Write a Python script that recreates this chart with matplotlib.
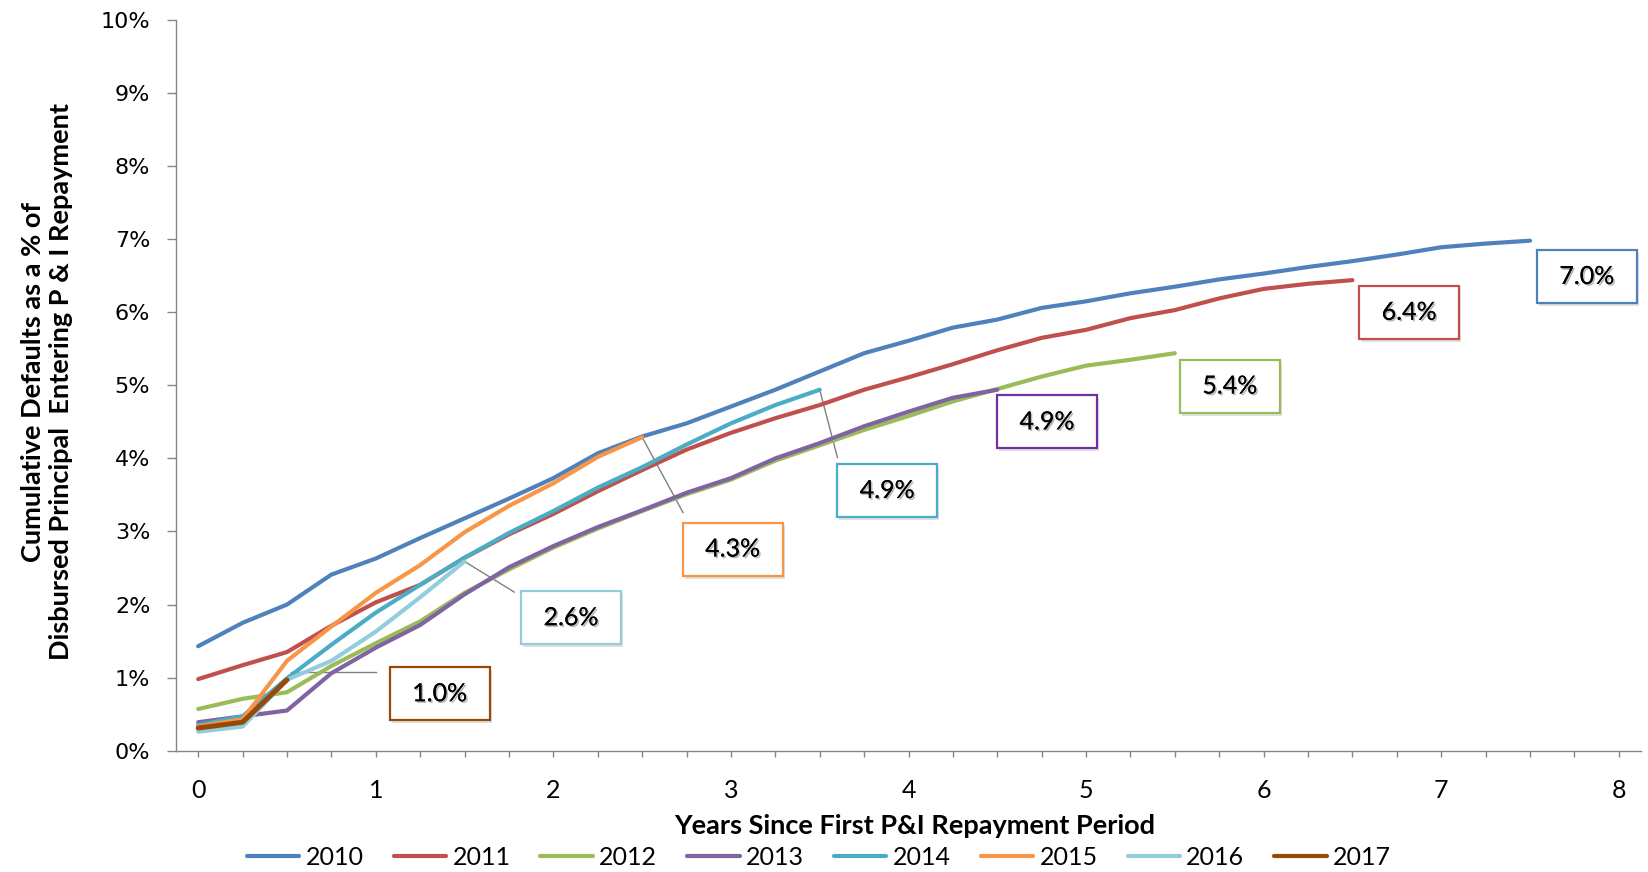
import matplotlib
matplotlib.use("Agg")
import matplotlib.pyplot as plt
import matplotlib.transforms as mtransforms
import matplotlib.patheffects as pe
from matplotlib.patches import Rectangle
from matplotlib.ticker import MultipleLocator, FuncFormatter

# ---------------- data ----------------
quarters = [0, 0.25, 0.5, 0.75, 1.0, 1.25, 1.5, 1.75, 2.0, 2.25, 2.5, 2.75,
            3.0, 3.25, 3.5, 3.75, 4.0, 4.25, 4.5, 4.75, 5.0, 5.25, 5.5, 5.75,
            6.0, 6.25, 6.5, 6.75, 7.0, 7.25, 7.5]

s2010 = [1.43, 1.75, 2.00, 2.41, 2.63, 2.91, 3.18, 3.45, 3.73, 4.07, 4.30, 4.48,
         4.71, 4.94, 5.19, 5.44, 5.61, 5.79, 5.90, 6.06, 6.15, 6.26, 6.35, 6.45,
         6.53, 6.62, 6.70, 6.79, 6.89, 6.94, 6.98]
s2011 = [0.98, 1.17, 1.35, 1.71, 2.03, 2.27, 2.64, 2.96, 3.24, 3.55, 3.84, 4.12,
         4.35, 4.55, 4.73, 4.94, 5.11, 5.29, 5.48, 5.65, 5.76, 5.92, 6.03, 6.19,
         6.32, 6.39, 6.44]
s2012 = [0.57, 0.71, 0.80, 1.16, 1.47, 1.77, 2.16, 2.48, 2.78, 3.04, 3.28, 3.51,
         3.71, 3.97, 4.18, 4.39, 4.58, 4.78, 4.95, 5.12, 5.27, 5.35, 5.44]
s2013 = [0.39, 0.47, 0.55, 1.06, 1.41, 1.72, 2.14, 2.51, 2.80, 3.06, 3.29, 3.53,
         3.73, 4.00, 4.21, 4.44, 4.64, 4.83, 4.94]
s2014 = [0.35, 0.47, 0.99, 1.45, 1.89, 2.27, 2.64, 2.98, 3.28, 3.60, 3.88, 4.19,
         4.48, 4.73, 4.94]
s2015 = [0.33, 0.43, 1.23, 1.70, 2.16, 2.54, 2.99, 3.35, 3.66, 4.02, 4.29]
s2016 = [0.26, 0.33, 0.97, 1.23, 1.63, 2.10, 2.59]
s2017 = [0.31, 0.39, 0.97]

cohorts = ["2010", "2011", "2012", "2013", "2014", "2015", "2016", "2017"]
series = [s2010, s2011, s2012, s2013, s2014, s2015, s2016, s2017]
colors = ["#4F81BD", "#C0504D", "#9BBB59", "#8064A2", "#4BACC6", "#F79646",
          "#93CDDD", "#984807"]
box_edges = ["#4F81BD", "#C0504D", "#9BBB59", "#7030A0", "#4BACC6", "#F79646",
             "#93CDDD", "#984807"]
widths = [3.0, 3.0, 3.0, 3.0, 3.0, 3.0, 3.0, 3.6]

# label centres (years, %) and optional leader lines (start, end)
label_pos = [(7.82, 6.49), (6.82, 6.00), (5.81, 4.99), (4.78, 4.50),
             (3.88, 3.56), (3.01, 2.76), (2.10, 1.82), (1.36, 0.78)]
leader_start = [None, None, None, None, None, None, None, (0.52, 1.08)]
leader_end = [None, None, None, None, (3.60, 4.01), (2.73, 3.26),
              (1.78, 2.17), (1.00, 1.08)]

# ---------------- figure ----------------
fig = plt.figure(figsize=(16.48, 8.72), dpi=100)
ax = fig.add_axes([176 / 1648, 121.3 / 872, 1465 / 1648, 730.7 / 872])

for name, vals, c, lw in zip(cohorts, series, colors, widths):
    ax.plot(quarters[:len(vals)], vals, color=c, lw=lw, label=name,
            solid_capstyle="round", solid_joinstyle="round", zorder=3)

ax.set_xlim(-0.125, 8.125)
ax.set_ylim(0, 10)

gray = "#868686"
for side in ("top", "right"):
    ax.spines[side].set_visible(False)
for side in ("left", "bottom"):
    ax.spines[side].set_color(gray)
    ax.spines[side].set_linewidth(1.0)

ax.yaxis.set_major_locator(MultipleLocator(1))
ax.yaxis.set_major_formatter(FuncFormatter(lambda v, p: f"{int(round(v))}%"))
ax.xaxis.set_major_locator(MultipleLocator(1))
ax.xaxis.set_minor_locator(MultipleLocator(0.25))
ax.xaxis.set_major_formatter(FuncFormatter(lambda v, p: f"{int(round(v))}"))

ax.tick_params(axis="y", which="major", length=6.5, width=1.0, color=gray,
               pad=12, labelsize=16, labelcolor="black")
ax.tick_params(axis="x", which="both", length=4.5, width=1.0, color=gray,
               direction="out")
ax.tick_params(axis="x", which="major", pad=16, labelsize=18)
for lab in ax.get_xticklabels():
    lab.set_fontfamily("Lato")
for lab in ax.get_yticklabels():
    lab.set_fontfamily("DejaVu Sans")

# ---------------- labels ----------------
shadow_text = [pe.withSimplePatchShadow(offset=(1.2, -1.2), shadow_rgbFace="#7f7f7f",
                                        alpha=0.55), pe.Normal()]
bw, bh = 100, 53
for vals, ec, (lx, ly), lstart, lend in zip(series, box_edges, label_pos,
                                            leader_start, leader_end):
    if lend is not None:
        p0 = lstart if lstart is not None else (quarters[len(vals) - 1], vals[-1])
        ax.plot([p0[0], lend[0]], [p0[1], lend[1]], color="#808080", lw=1.0,
                zorder=2.5)
    tr = mtransforms.IdentityTransform() + mtransforms.ScaledTranslation(lx, ly, ax.transData)
    sh = Rectangle((-bw / 2 + 2, -bh / 2 - 3), bw, bh, transform=tr, facecolor="#000000",
                   alpha=0.12, edgecolor="none", zorder=4, clip_on=False)
    ax.add_artist(sh)
    rect = Rectangle((-bw / 2, -bh / 2), bw, bh, transform=tr, facecolor="white",
                     edgecolor=ec, lw=1.6, zorder=5, clip_on=False)
    ax.add_artist(rect)
    ax.text(lx, ly, f"{vals[-1]:.1f}%", ha="center", va="center", fontsize=18,
            family="Lato", color="black", zorder=6, path_effects=shadow_text,
            clip_on=False)

# ---------------- titles ----------------
fig.text(915 / 1648, 1 - 826 / 872, "Years Since First P&I Repayment Period",
         ha="center", va="center", fontsize=19.5, fontweight="bold", family="Lato")
fig.text(47 / 1648, 1 - 382 / 872,
         "Cumulative Defaults as a % of\nDisbursed Principal  Entering P & I Repayment",
         ha="center", va="center", rotation=90, fontsize=19.5, fontweight="bold",
         family="Lato", linespacing=1.2, multialignment="center")

leg = fig.legend(loc="center", bbox_to_anchor=(0.497, 1 - 857 / 872), ncol=8,
                 frameon=False, prop={"family": "Lato", "size": 18},
                 handlelength=2.1, handletextpad=0.25, columnspacing=1.2)
for h in leg.legend_handles:
    h.set_linewidth(3.0)

fig.savefig("out.png", dpi=100)
